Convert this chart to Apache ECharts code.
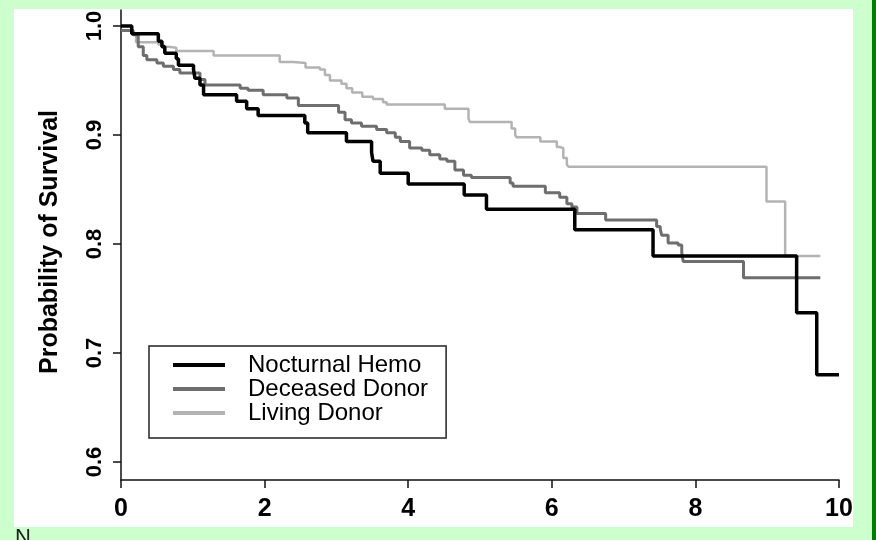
<!DOCTYPE html>
<html>
<head>
<meta charset="utf-8">
<script src="https://cdn.jsdelivr.net/npm/echarts@6/dist/echarts.min.js"></script>
<style>
  html, body { margin: 0; padding: 0; background: #ccffcc; }
  #chart { width: 876px; height: 540px; }
</style>
</head>
<body>
<div id="chart"></div>
<script>
// Kaplan-Meier survival estimates (years since start, probability of survival)
const hemoTime = [0, 0.15, 0.52, 0.57, 0.61, 0.77, 0.80, 1.01, 1.03, 1.10, 1.15, 1.61, 1.75, 1.91, 2.56, 2.60, 3.14, 3.49, 3.51, 3.61, 4.00, 4.78, 5.09, 6.32, 7.41, 9.41, 9.69, 10.0];
const hemoSurv = [1.0, 0.993, 0.986, 0.981, 0.975, 0.970, 0.964, 0.960, 0.952, 0.946, 0.937, 0.931, 0.924, 0.918, 0.911, 0.902, 0.894, 0.884, 0.876, 0.865, 0.855, 0.845, 0.832, 0.813, 0.789, 0.737, 0.680, 0.680];

const deceasedTime = [0, 0.17, 0.24, 0.31, 0.36, 0.50, 0.59, 0.73, 0.82, 1.10, 1.17, 1.66, 1.77, 1.98, 2.31, 2.47, 3.03, 3.12, 3.21, 3.35, 3.56, 3.70, 3.82, 3.89, 4.02, 4.19, 4.30, 4.44, 4.54, 4.65, 4.77, 4.88, 5.42, 5.46, 5.91, 6.11, 6.21, 6.28, 6.35, 6.75, 7.46, 7.51, 7.53, 7.62, 7.76, 7.81, 7.83, 8.67, 9.74];
const deceasedSurv = [0.996, 0.992, 0.981, 0.973, 0.969, 0.966, 0.963, 0.960, 0.957, 0.951, 0.946, 0.943, 0.941, 0.937, 0.934, 0.927, 0.921, 0.914, 0.911, 0.908, 0.905, 0.902, 0.898, 0.894, 0.888, 0.886, 0.882, 0.878, 0.876, 0.868, 0.863, 0.861, 0.856, 0.853, 0.847, 0.843, 0.837, 0.834, 0.828, 0.822, 0.816, 0.814, 0.808, 0.801, 0.799, 0.792, 0.784, 0.769, 0.769];

const livingTime = [0, 0.16, 0.21, 0.52, 0.59, 0.66, 0.77, 1.29, 2.21, 2.40, 2.57, 2.77, 2.84, 2.91, 3.07, 3.14, 3.22, 3.36, 3.51, 3.65, 3.70, 4.51, 4.84, 4.86, 5.44, 5.49, 5.51, 5.84, 6.07, 6.11, 6.16, 6.21, 6.23, 8.99, 9.25, 9.74];
const livingSurv = [0.996, 0.992, 0.985, 0.983, 0.981, 0.980, 0.977, 0.973, 0.967, 0.966, 0.962, 0.960, 0.955, 0.950, 0.947, 0.943, 0.939, 0.935, 0.933, 0.930, 0.928, 0.924, 0.915, 0.912, 0.906, 0.900, 0.898, 0.894, 0.889, 0.888, 0.879, 0.873, 0.871, 0.839, 0.789, 0.789];

const seriesNames = ['Nocturnal Hemo', 'Deceased Donor', 'Living Donor'];
const yTicks = [0.6, 0.7, 0.8, 0.9, 1.0];
const xTicks = [0, 2, 4, 6, 8, 10];

const FONT = '"Liberation Sans", Arial, sans-serif';

function pairs(t, s) {
  return t.map((v, i) => [v, s[i]]);
}

const chart = echarts.init(document.getElementById('chart'), null, { renderer: 'canvas' });

function curve(name, t, s, color, width) {
  return {
    name: name,
    type: 'line',
    step: 'end',
    symbol: 'none',
    data: pairs(t, s),
    itemStyle: { color: color },
    lineStyle: { color: color, width: width },
    animation: false
  };
}

chart.setOption({
  backgroundColor: '#ccffcc',
  animation: false,
  grid: { left: 121, right: 37, top: 10, bottom: 60, containLabel: false },
  xAxis: {
    type: 'value',
    min: xTicks[0],
    max: xTicks[xTicks.length - 1],
    interval: 2,
    axisLine: { show: true, onZero: false, lineStyle: { color: '#111', width: 1.5 } },
    axisTick: { show: true, length: 8, lineStyle: { color: '#111', width: 1.5 } },
    axisLabel: { margin: 17, fontSize: 25, fontWeight: 'bold', color: '#000', fontFamily: FONT },
    splitLine: { show: false }
  },
  yAxis: {
    type: 'value',
    min: 0.5835,
    max: 1.0147,
    axisLine: { show: true, onZero: false, lineStyle: { color: '#111', width: 1.5 } },
    axisTick: { show: true, length: 8, customValues: yTicks, lineStyle: { color: '#111', width: 1.5 } },
    axisLabel: {
      customValues: yTicks,
      rotate: 90,
      margin: 15,
      fontSize: 22,
      fontWeight: 'bold',
      color: '#000',
      fontFamily: FONT,
      formatter: v => v.toFixed(1)
    },
    splitLine: { show: false }
  },
  legend: {
    data: seriesNames,
    orient: 'vertical',
    left: 149,
    top: 346,
    padding: [7, 18, 13, 24],
    itemGap: 0,
    itemWidth: 52,
    itemHeight: 4,
    icon: 'rect',
    borderColor: '#222',
    borderWidth: 1.5,
    backgroundColor: '#fff',
    textStyle: { fontSize: 24, color: '#000', fontFamily: FONT, lineHeight: 23.5, padding: [0, 0, 0, 18] }
  },
  graphic: [
    { type: 'rect', z: -10, shape: { x: 14, y: 9, width: 839, height: 518 }, style: { fill: '#ffffff' } },
    { type: 'rect', z: -10, shape: { x: 872, y: 0, width: 4, height: 540 }, style: { fill: '#008000' } },
    {
      type: 'text', z: 5, x: 50, y: 242, rotation: Math.PI / 2,
      style: { text: 'Probability of Survival', font: 'bold 25px ' + FONT, fill: '#000', align: 'center', verticalAlign: 'middle' }
    },
    {
      type: 'text', z: 5, x: 15, y: 527,
      style: { text: 'N', font: '22px ' + FONT, fill: '#222', align: 'left', verticalAlign: 'top' }
    }
  ],
  series: [
    curve(seriesNames[2], livingTime, livingSurv, '#b3b3b3', 2.5),
    curve(seriesNames[1], deceasedTime, deceasedSurv, '#6e6e6e', 3),
    curve(seriesNames[0], hemoTime, hemoSurv, '#000000', 3.5)
  ]
});
</script>
</body>
</html>
